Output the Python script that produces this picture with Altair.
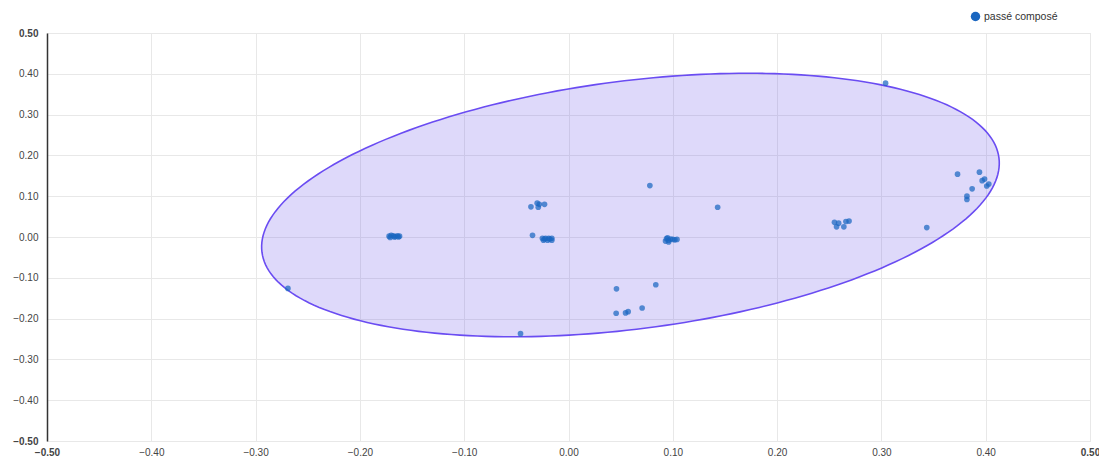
import altair as alt
import pandas as pd
import numpy as np

series_name = "passé composé"

pt_x = [
    # cluster near -0.17
    -0.172, -0.170, -0.168, -0.166, -0.164, -0.162, -0.171, -0.167, -0.163,
    # isolated left
    -0.269, -0.046,
    # cluster near -0.03, 0.08
    -0.036, -0.030, -0.028, -0.023, -0.029,
    # point and cluster near -0.02, 0.0
    -0.0345, -0.025, -0.022, -0.019, -0.016, -0.024, -0.020, -0.016, -0.023, -0.018,
    # middle
    0.078, 0.143,
    # cluster near 0.1
    0.093, 0.094, 0.096, 0.098, 0.100, 0.102, 0.104, 0.096, 0.095,
    # lower middle
    0.046, 0.0837, 0.0457, 0.0547, 0.0572, 0.0706,
    # cluster near 0.26
    0.255, 0.257, 0.264, 0.266, 0.269, 0.259,
    # right side
    0.304, 0.373, 0.394, 0.3966, 0.3989, 0.401, 0.403, 0.387, 0.382, 0.382, 0.3435,
]
pt_y = [
    0.002, 0.004, 0.003, 0.001, 0.003, 0.002, -0.001, 0.000, 0.000,
    -0.126, -0.237,
    0.074, 0.083, 0.080, 0.080, 0.073,
    0.004, -0.003, -0.003, -0.003, -0.003, -0.008, -0.008, -0.008, -0.005, -0.005,
    0.126, 0.073,
    -0.010, -0.004, -0.008, -0.005, -0.006, -0.007, -0.006, -0.012, -0.002,
    -0.127, -0.117, -0.187, -0.186, -0.183, -0.174,
    0.036, 0.025, 0.025, 0.038, 0.039, 0.034,
    0.377, 0.154, 0.159, 0.138, 0.142, 0.125, 0.130, 0.118, 0.100, 0.092, 0.023,
]

# Ellipse parameters (center and the two conjugate half-axis vectors, in data units)
ell_cx, ell_cy = 0.0594, 0.0784
ell_ax, ell_ay = 0.3533, 0.1157   # major half-axis vector
ell_bx, ell_by = -0.0151, 0.3015  # minor half-axis vector

t = np.linspace(0, 2 * np.pi, 241)
ell = pd.DataFrame({
    "x": ell_cx + ell_ax * np.cos(t) + ell_bx * np.sin(t),
    "y": ell_cy + ell_ay * np.cos(t) + ell_by * np.sin(t),
    "o": np.arange(len(t)),
})

pts = pd.DataFrame({"x": pt_x, "y": pt_y, "series": series_name})

ticks = [-0.5, -0.4, -0.3, -0.2, -0.1, 0.0, 0.1, 0.2, 0.3, 0.4, 0.5]
bold_cond = {"condition": {"test": "abs(datum.value) >= 0.5", "value": "bold"}, "value": "normal"}

xs = alt.Scale(domain=[-0.5, 0.5], nice=False, zero=False)
ys = alt.Scale(domain=[-0.5, 0.5], nice=False, zero=False)

x_axis = alt.Axis(values=ticks, format=".2f", title=None, domain=False, ticks=False,
                  gridColor="#e8e8e8", labelColor="#444", labelFontSize=10,
                  labelFont="Liberation Sans", labelPadding=6, labelFontWeight=bold_cond,
                  labelFlush=False, labelOverlap=False, labelBound=False)
y_axis = alt.Axis(values=ticks, format=".2f", title=None, domain=True, domainColor="#333",
                  domainWidth=1.5, ticks=False, gridColor="#e8e8e8", labelColor="#444",
                  labelFontSize=10, labelFont="Liberation Sans", labelPadding=9,
                  labelFontWeight=bold_cond, labelFlush=False, labelOverlap=False,
                  labelBound=False)

ellipse = alt.Chart(ell).mark_line(
    fill="#6a50e6", fillOpacity=0.22, stroke="#6a4cf2", strokeWidth=1.6
).encode(
    x=alt.X("x:Q", scale=xs, axis=x_axis),
    y=alt.Y("y:Q", scale=ys, axis=y_axis),
    order="o:Q",
)

points = alt.Chart(pts).mark_circle(size=32, opacity=0.72).encode(
    x=alt.X("x:Q", scale=xs),
    y=alt.Y("y:Q", scale=ys),
    color=alt.Color("series:N",
                    scale=alt.Scale(domain=[series_name], range=["#1a66c0"]),
                    legend=alt.Legend(title=None, orient="none", legendX=923, legendY=-22,
                                      symbolType="circle", symbolSize=90, symbolOpacity=1,
                                      labelFontSize=10.5, labelColor="#333",
                                      labelFont="Liberation Sans", labelOffset=3)),
)

chart = alt.layer(ellipse, points).properties(
    width=1043, height=408,
    autosize=alt.AutoSizeParams(type="none"),
    padding={"left": 39, "top": 25, "right": 9, "bottom": 16},
).configure_view(stroke=None).configure(background="white")

chart.save("out.html", embed_options={"renderer": "svg", "actions": False})
